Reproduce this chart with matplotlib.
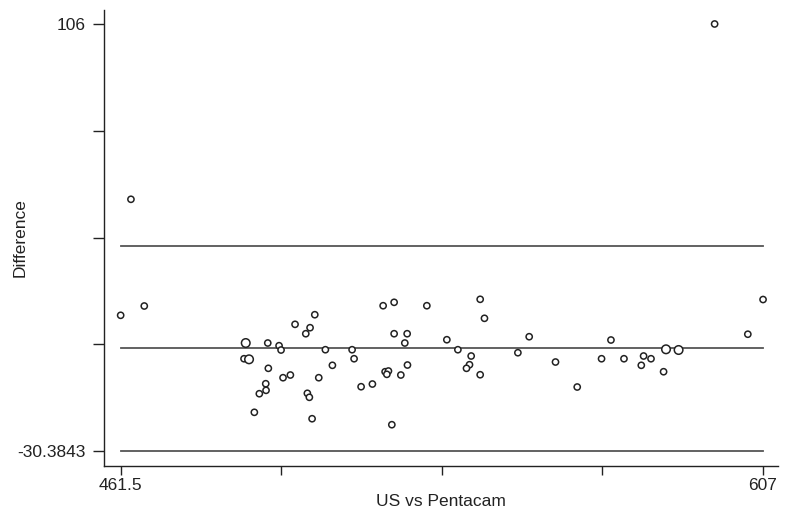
import numpy as np
import matplotlib.pyplot as plt

plt.rcParams['font.family'] = ['Liberation Sans', 'DejaVu Sans']

# Bland-Altman data: mean of the two methods vs their difference
avg = [461.5, 466.85, 463.83, 489.83, 489.44, 490.58, 494.82, 494.95, 494.36,
       494.43, 492.91, 491.78, 497.38, 497.83, 498.28, 499.94, 501.0, 503.43,
       504.40, 505.47, 503.79, 504.24, 504.86, 506.37, 507.87, 509.46, 513.92,
       514.37, 515.96, 518.52, 520.95, 523.44, 523.44, 525.86, 526.39, 521.4,
       522.15, 521.79, 524.96, 526.46, 522.92, 530.85, 535.38, 537.88, 540.89,
       540.51, 539.83, 542.93, 542.93, 543.90, 551.47, 554.03, 559.99, 564.91,
       570.42, 572.55, 575.50, 579.94, 579.42, 581.62, 584.47, 585.02, 587.87,
       603.55, 607.0, 596.03]
diff = [12.96, 15.93, 50.01, 4.11, -0.91, -1.10, 4.11, -3.97, -8.89,
        -11.0, -12.08, -18.02, 3.25, 1.87, -6.97, -6.11, 10.08, 7.08,
        9.0, 13.15, -11.95, -13.23, -20.07, -6.97, 1.97, -3.01, 1.97,
        -0.91, -9.85, -8.99, 16.02, 17.11, 7.08, 4.11, 7.08, -5.06,
        -4.83, -5.89, -6.11, -2.92, -21.98, 16.02, 5.16, 1.97, -0.04,
        -2.82, -3.97, -6.02, 18.07, 12.0, 1.01, 6.12, -1.96, -9.94,
        -0.91, 5.07, -0.91, -0.04, -3.01, -0.91, -5.06, 2.10, 1.88,
        6.92, 18.0, 106.0]
# number of coinciding observations (drawn as larger circles)
count = [1, 1, 1, 2, 1, 2, 1, 1, 1, 1, 1, 1, 1, 1, 1, 1, 1, 1, 1, 1, 1, 1,
         1, 1, 1, 1, 1, 1, 1, 1, 1, 1, 1, 1, 1, 1, 1, 1, 1, 1, 1, 1, 1, 1,
         1, 1, 1, 1, 1, 1, 1, 1, 1, 1, 1, 1, 1, 1, 1, 1, 1, 2, 2, 1, 1, 1]

mean_diff = 2.42
upper_loa = 35.22
lower_loa = -30.3843
x_min, x_max = 461.5, 607
y_max = 106

fig = plt.figure(figsize=(7.87, 5.20), dpi=100)
ax = fig.add_axes([0.1321, 0.1038, 0.857, 0.877])

sizes = np.where(np.array(count) > 1, 38, 20)
ax.scatter(avg, diff, s=sizes, facecolors='white', edgecolors='#222222',
           linewidths=1.1, zorder=3)

for level in (upper_loa, mean_diff, lower_loa):
    ax.plot([x_min, x_max], [level, level], color='#555555', lw=1.3, zorder=2)

ax.set_xlim(457.72, 610.48)
ax.set_ylim(-35.175, 110.47)

ax.set_xticks(np.linspace(x_min, x_max, 5))
ax.set_xticklabels(['461.5', '', '', '', '607'])
ax.set_yticks(np.linspace(lower_loa, y_max, 5))
ax.set_yticklabels(['-30.3843', '', '', '', '106'])

ax.spines['top'].set_visible(False)
ax.spines['right'].set_visible(False)
for side in ('left', 'bottom'):
    ax.spines[side].set_color('#222222')
    ax.spines[side].set_linewidth(1.0)

ax.tick_params(axis='x', direction='out', length=6.5, width=1.0, pad=2,
               labelsize=12.5, colors='#222222')
ax.tick_params(axis='y', direction='out', length=8, width=1.0, pad=5,
               labelsize=12.5, colors='#222222')

ax.set_xlabel('US vs Pentacam', fontsize=12.5, color='#222222', labelpad=1)
ax.set_ylabel('Difference', fontsize=12.5, color='#222222')
ax.yaxis.set_label_coords(-0.1127, 0.5)

fig.savefig('out.png', dpi=100)
